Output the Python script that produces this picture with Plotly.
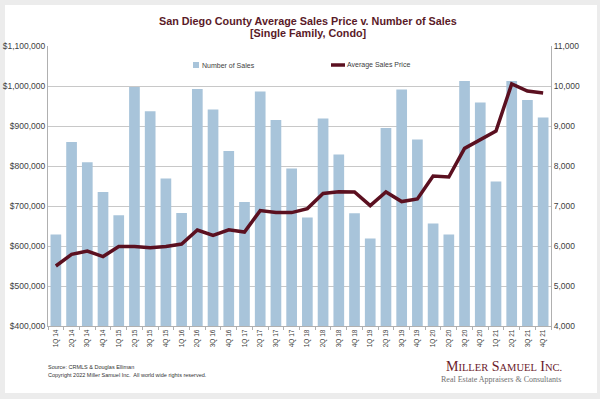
import plotly.graph_objects as go

quarters = ["1Q 14","2Q 14","3Q 14","4Q 14","1Q 15","2Q 15","3Q 15","4Q 15",
            "1Q 16","2Q 16","3Q 16","4Q 16","1Q 17","2Q 17","3Q 17","4Q 17",
            "1Q 18","2Q 18","3Q 18","4Q 18","1Q 19","2Q 19","3Q 19","4Q 19",
            "1Q 20","2Q 20","3Q 20","4Q 20","1Q 21","2Q 21","3Q 21","4Q 21"]
num_sales = [6290, 8600, 8095, 7350, 6770, 9975, 9370, 7685,
             6825, 9925, 9410, 8375, 7100, 9860, 9150, 7935,
             6715, 9185, 8290, 6820, 6190, 8950, 9910, 8660,
             6565, 6285, 10125, 9585, 7615, 10125, 9650, 9215]
avg_price = [550000, 579000, 587500, 573500, 598500, 598500, 595500, 599000,
             605000, 640000, 626500, 640500, 635000, 688500, 683500, 683500,
             693500, 731500, 735500, 735000, 701000, 735000, 711000, 717500,
             775000, 772500, 844000, 865000, 887500, 1005000, 987500, 982500]

left_ticks = [400000, 500000, 600000, 700000, 800000, 900000, 1000000, 1100000]
left_labels = ["$400,000", "$500,000", "$600,000", "$700,000", "$800,000",
               "$900,000", "$1,000,000", "$1,100,000"]
right_ticks = [4000, 5000, 6000, 7000, 8000, 9000, 10000, 11000]
right_labels = ["4,000", "5,000", "6,000", "7,000", "8,000", "9,000", "10,000", "11,000"]

BAR = "#a8c4da"
LINE = "#5b1020"
TXT = "#404040"
FONT = "Liberation Sans, Arial, sans-serif"
SERIF = "Liberation Serif, Times New Roman, serif"

W_PLOT = 503.0
H_PLOT = 280.0
def px(x):  # pixel x -> paper
    return (x - 48) / W_PLOT
def py(y):  # pixel y -> paper
    return (326 - y) / H_PLOT

fig = go.Figure()
# bars on primary (right-side) axis, line on overlaying left axis so it draws on top
fig.add_trace(go.Bar(x=quarters, y=num_sales, name="Number of Sales",
                     marker=dict(color=BAR, line=dict(width=0)), yaxis="y"))
fig.add_trace(go.Scatter(x=quarters, y=avg_price, name="Average Sales Price",
                         mode="lines", line=dict(color=LINE, width=3.5), yaxis="y2"))

fig.update_layout(
    width=600, height=399,
    margin=dict(l=48, r=49, t=46, b=73),
    paper_bgcolor="#ececec",
    plot_bgcolor="rgba(0,0,0,0)",
    font=dict(family=FONT, color=TXT, size=8.5),
    bargap=0.32,
    showlegend=False,
    xaxis=dict(type="category", tickangle=-90, tickfont=dict(size=6.5, color=TXT),
               showline=True, linecolor="#b0b0b0", linewidth=1,
               ticks="outside", ticklen=3, tickcolor="#b0b0b0", tickson="boundaries",
               showgrid=False, zeroline=False, automargin=False),
    yaxis=dict(range=[4000, 11000], tickvals=right_ticks, ticktext=right_labels,
               side="right", showgrid=True, gridcolor="#c8c8c8", gridwidth=1,
               showline=True, linecolor="#b0b0b0", linewidth=1,
               tickfont=dict(size=8.5, color=TXT), zeroline=False, ticks="",
               automargin=False),
    yaxis2=dict(range=[400000, 1100000], tickvals=left_ticks, ticktext=left_labels,
                overlaying="y", side="left", showgrid=False,
                showline=True, linecolor="#b0b0b0", linewidth=1,
                tickfont=dict(size=8.5, color=TXT), zeroline=False, ticks="",
                automargin=False),
)

# white card over the gray frame
fig.add_shape(type="rect", xref="paper", yref="paper",
              x0=px(5), x1=px(597), y0=py(393), y1=py(5),
              fillcolor="white", line=dict(width=0), layer="below")

# title (two lines)
fig.add_annotation(text="<b>San Diego County Average Sales Price v. Number of Sales</b>",
                   xref="paper", yref="paper", x=px(307.5), y=py(21), xanchor="center",
                   yanchor="middle", showarrow=False,
                   font=dict(family=FONT, size=10.8, color="#5a1a28"))
fig.add_annotation(text="<b>[Single Family, Condo]</b>",
                   xref="paper", yref="paper", x=px(308), y=py(33.5), xanchor="center",
                   yanchor="middle", showarrow=False,
                   font=dict(family=FONT, size=10.8, color="#5a1a28"))

# legend keys
fig.add_shape(type="rect", xref="paper", yref="paper",
              x0=px(193), x1=px(199), y0=py(68), y1=py(62),
              fillcolor=BAR, line=dict(width=0))
fig.add_annotation(text="Number of Sales", xref="paper", yref="paper",
                   x=px(199.5), y=py(65), xanchor="left", yanchor="middle",
                   showarrow=False, font=dict(size=7, color=TXT))
fig.add_shape(type="line", xref="paper", yref="paper",
              x0=px(331), x1=px(345), y0=py(65), y1=py(65),
              line=dict(color=LINE, width=3.5))
fig.add_annotation(text="Average Sales Price", xref="paper", yref="paper",
                   x=px(345), y=py(65), xanchor="left", yanchor="middle",
                   showarrow=False, font=dict(size=7, color=TXT))

# footnotes
fig.add_annotation(text="Source: CRMLS & Douglas Elliman", xref="paper", yref="paper",
                   x=px(46), y=py(366.5), xanchor="left", yanchor="middle", showarrow=False,
                   font=dict(size=5.5, color="#333333"))
fig.add_annotation(text="Copyright 2022 Miller Samuel Inc.  All world wide rights reserved.",
                   xref="paper", yref="paper", x=px(46), y=py(374.5), xanchor="left",
                   yanchor="middle", showarrow=False, font=dict(size=5.5, color="#333333"))

# logo
fig.add_annotation(
    text="M<span style='font-size:10.5px'>ILLER</span> S<span style='font-size:10.5px'>AMUEL</span> I<span style='font-size:10.5px'>NC.</span>",
    xref="paper", yref="paper", x=px(563.5), y=py(366), xanchor="right", yanchor="middle",
    showarrow=False, font=dict(family=SERIF, size=14, color="#6b1a2a"))
fig.add_annotation(text="Real Estate Appraisers &amp; Consultants", xref="paper", yref="paper",
                   x=px(562.5), y=py(379.5), xanchor="right", yanchor="middle", showarrow=False,
                   font=dict(family=SERIF, size=8, color="#707070"))

fig.write_html("out.html", config={"displayModeBar": False},
               post_script="document.body.style.margin='0';document.body.style.overflow='hidden';")
